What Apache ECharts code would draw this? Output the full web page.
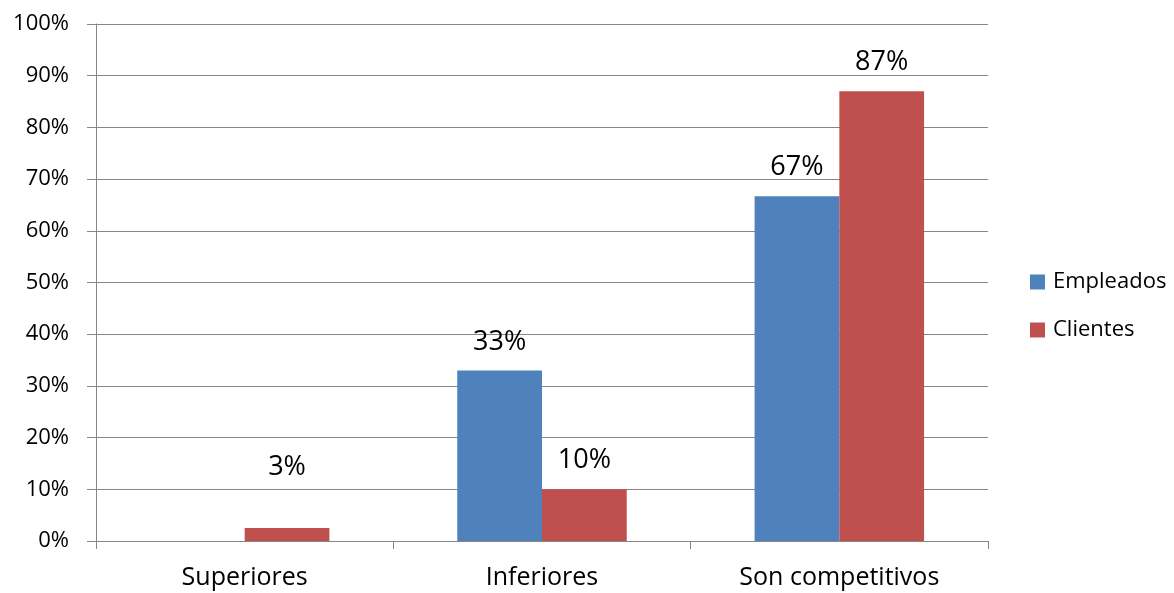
<!DOCTYPE html>
<html>
<head>
<meta charset="utf-8">
<style>
  html, body { margin: 0; padding: 0; background: #fff; }
  #chart { width: 1174px; height: 593px; }
</style>
<script src="https://cdn.jsdelivr.net/npm/echarts@6/dist/echarts.min.js"></script>
</head>
<body>
<div id="chart"></div>
<script>
// Categories and values (percent)
var categories = ['Superiores', 'Inferiores', 'Son competitivos'];
var empleados = [0, 33, 66.7];
var clientes = [2.5, 10, 87];
var yTicks = [0, 10, 20, 30, 40, 50, 60, 70, 80, 90, 100];

var FONT = '"Open Sans", "DejaVu Sans", sans-serif';
var BLUE = '#4F81BD';
var RED = '#C0504D';
var GRID = '#868686';

function pctLabel(p) {
  if (!p.value) return '';
  return Math.round(p.value) + '%';
}

var labelStyle = {
  show: true,
  position: 'top',
  distance: 15,
  color: '#000',
  fontFamily: FONT,
  fontSize: 27,
  formatter: pctLabel
};

var chart = echarts.init(document.getElementById('chart'), null, { renderer: 'canvas' });
chart.setOption({
  animation: false,
  backgroundColor: '#fff',
  grid: { left: 96, right: 186, top: 24, bottom: 52, containLabel: false },
  legend: {
    orient: 'vertical',
    left: 1030,
    top: 269,
    padding: 0,
    itemWidth: 15,
    itemHeight: 15,
    itemGap: 22,
    icon: 'rect',
    textStyle: { fontFamily: FONT, fontSize: 22, color: '#000', padding: [0, 0, 0, 3], lineHeight: 26 },
    data: ['Empleados', 'Clientes']
  },
  xAxis: {
    type: 'category',
    data: categories,
    axisLine: { show: true, lineStyle: { color: GRID, width: 1 } },
    axisTick: { show: true, length: 8, alignWithLabel: false, lineStyle: { color: GRID, width: 1 } },
    axisLabel: { color: '#000', fontFamily: FONT, fontSize: 25, margin: 24 }
  },
  yAxis: {
    type: 'value',
    min: yTicks[0],
    max: yTicks[yTicks.length - 1],
    interval: yTicks[1] - yTicks[0],
    axisLine: { show: true, lineStyle: { color: GRID, width: 1 } },
    axisTick: { show: true, inside: false, length: 9, lineStyle: { color: GRID, width: 1 } },
    axisLabel: { color: '#000', fontFamily: FONT, fontSize: 22, margin: 27, formatter: '{value}%' },
    splitLine: { show: true, lineStyle: { color: GRID, width: 1 } }
  },
  series: [
    {
      name: 'Empleados',
      type: 'bar',
      data: empleados,
      barGap: '0%',
      barCategoryGap: '43%',
      itemStyle: { color: BLUE },
      label: labelStyle
    },
    {
      name: 'Clientes',
      type: 'bar',
      data: clientes.map(function (v, i) {
        // the small first bar carries its label higher up
        return i === 0 ? { value: v, label: { distance: 47 } } : v;
      }),
      barGap: '0%',
      barCategoryGap: '43%',
      itemStyle: { color: RED },
      label: labelStyle
    }
  ]
});
</script>
</body>
</html>
